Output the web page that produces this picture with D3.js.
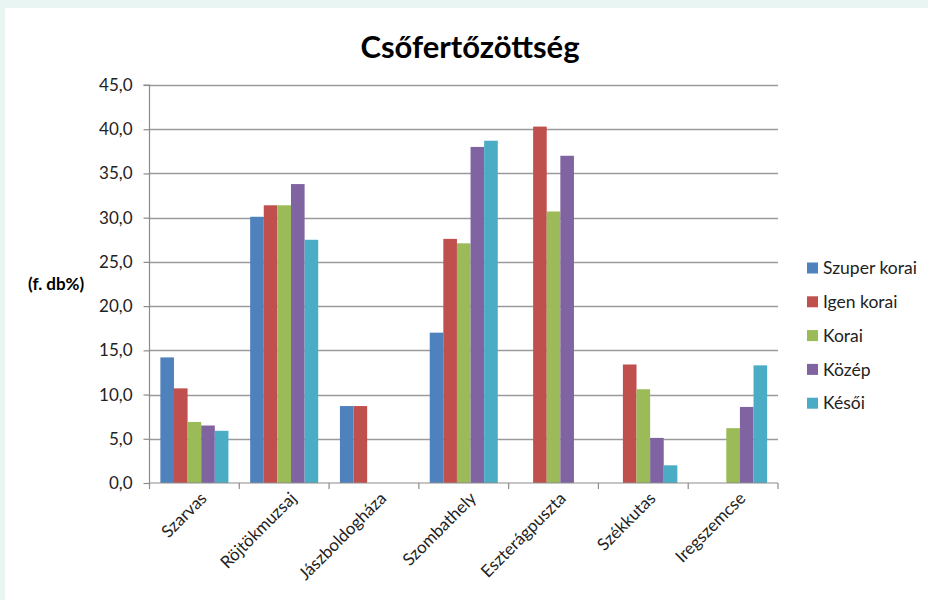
<!DOCTYPE html>
<html>
<head>
<meta charset="utf-8">
<script src="https://cdn.jsdelivr.net/npm/d3@7"></script>
<style>
  html, body { margin: 0; padding: 0; background: #fff; }
  svg { display: block; }
</style>
</head>
<body>
<script>
// chart data
const categories = ["Szarvas", "Röjtökmuzsaj", "Jászboldogháza", "Szombathely", "Eszterágpuszta", "Székkutas", "Iregszemcse"];
const seriesNames = ["Szuper korai", "Igen korai", "Korai", "Közép", "Késői"];
const seriesColors = ["#4F81BD", "#C0504D", "#9BBB59", "#8064A2", "#4BACC6"];
const szuperKorai = [14.2, 30.1, 8.7, 17.0, null, null, null];
const igenKorai   = [10.7, 31.4, 8.7, 27.6, 40.3, 13.4, null];
const korai       = [6.9, 31.4, null, 27.1, 30.7, 10.6, 6.2];
const kozep       = [6.5, 33.8, null, 38.0, 37.0, 5.1, 8.6];
const kesoi       = [5.9, 27.5, null, 38.7, null, 2.0, 13.3];
const yTicks = [0, 5, 10, 15, 20, 25, 30, 35, 40, 45];

const seriesValues = [szuperKorai, igenKorai, korai, kozep, kesoi];

const width = 928, height = 600;
const margin = {top: 85, right: 150, bottom: 117, left: 149.5};
const font = "Lato, 'Open Sans', sans-serif";

const svg = d3.select("body").append("svg")
    .attr("width", width)
    .attr("height", height)
    .attr("font-family", font);

// slide background peeking out at the top and left
svg.append("rect").attr("width", width).attr("height", height).attr("fill", "#e8f5f3");
svg.append("rect").attr("x", 5).attr("y", 8).attr("width", width - 5).attr("height", height - 8).attr("fill", "#fff");

const x = d3.scaleBand()
    .domain(categories)
    .range([margin.left, width - margin.right])
    .paddingInner(0.242)
    .paddingOuter(0.121);

const x1 = d3.scaleBand()
    .domain(seriesNames)
    .range([0, x.bandwidth()]);

const y = d3.scaleLinear()
    .domain([0, 45])
    .range([height - margin.bottom, margin.top]);

// gridlines
svg.append("g")
    .selectAll("line")
    .data(yTicks.filter(d => d > 0))
    .join("line")
    .attr("x1", margin.left)
    .attr("x2", width - margin.right)
    .attr("y1", d => Math.round(y(d)) + 0.5)
    .attr("y2", d => Math.round(y(d)) + 0.5)
    .attr("stroke", "#9a9a9a")
    .attr("stroke-width", 1.5);

// bars
const rows = [];
seriesValues.forEach((vals, s) => vals.forEach((v, i) => {
    if (v != null) rows.push({cat: categories[i], series: seriesNames[s], color: seriesColors[s], value: v});
}));

svg.append("g")
    .selectAll("rect")
    .data(rows)
    .join("rect")
    .attr("x", d => x(d.cat) + x1(d.series))
    .attr("y", d => y(d.value))
    .attr("width", x1.bandwidth())
    .attr("height", d => y(0) - y(d.value))
    .attr("fill", d => d.color);

// y axis
const yAxis = svg.append("g")
    .attr("transform", `translate(${margin.left},0)`)
    .call(d3.axisLeft(y)
        .tickValues(yTicks)
        .tickSize(6)
        .tickPadding(11)
        .tickFormat(d => d3.format(".1f")(d).replace(".", ",")));
yAxis.select(".domain").attr("stroke", "#8c8c8c").attr("stroke-width", 1.2).attr("d", `M-6,${y(45)}H0V${y(0)}`);
yAxis.selectAll(".tick line").attr("stroke", "#8c8c8c").attr("stroke-width", 1.2);
yAxis.selectAll(".tick text")
    .attr("font-family", font)
    .attr("font-size", 17)
    .attr("fill", "#222");

// x axis with ticks on category boundaries
const xg = svg.append("g");
xg.append("line")
    .attr("x1", margin.left).attr("x2", width - margin.right)
    .attr("y1", y(0)).attr("y2", y(0))
    .attr("stroke", "#8c8c8c").attr("stroke-width", 1.2);
const bounds = categories.map(c => x(c) - x.step() * x.paddingOuter()).concat([width - margin.right]);
xg.selectAll(".xt")
    .data(bounds)
    .join("line")
    .attr("x1", d => d).attr("x2", d => d)
    .attr("y1", y(0)).attr("y2", y(0) + 6)
    .attr("stroke", "#8c8c8c").attr("stroke-width", 1.2);

xg.selectAll("text")
    .data(categories)
    .join("text")
    .attr("transform", d => `translate(${x(d) + x.bandwidth() / 2 + 5},${y(0) + 8}) rotate(-45)`)
    .attr("text-anchor", "end")
    .attr("dy", "0.7em")
    .attr("font-size", 17)
    .attr("fill", "#222")
    .text(d => d);

// title
svg.append("text")
    .attr("x", 470)
    .attr("y", 58)
    .attr("text-anchor", "middle")
    .attr("font-size", 31)
    .attr("font-weight", "bold")
    .attr("fill", "#000")
    .text("Csőfertőzöttség");

// y axis title
svg.append("text")
    .attr("x", 28)
    .attr("y", 290)
    .attr("font-size", 17)
    .attr("font-weight", "bold")
    .attr("fill", "#000")
    .text("(f. db%)");

// legend
const legend = svg.append("g")
    .attr("transform", "translate(807,268)");
const item = legend.selectAll("g")
    .data(seriesNames)
    .join("g")
    .attr("transform", (d, i) => `translate(0,${i * 33.8})`);
item.append("rect")
    .attr("x", 0).attr("y", -5.5)
    .attr("width", 11).attr("height", 11)
    .attr("fill", (d, i) => seriesColors[i]);
item.append("text")
    .attr("x", 16)
    .attr("dy", "0.35em")
    .attr("font-size", 17.5)
    .attr("fill", "#222")
    .text(d => d);
</script>
</body>
</html>
